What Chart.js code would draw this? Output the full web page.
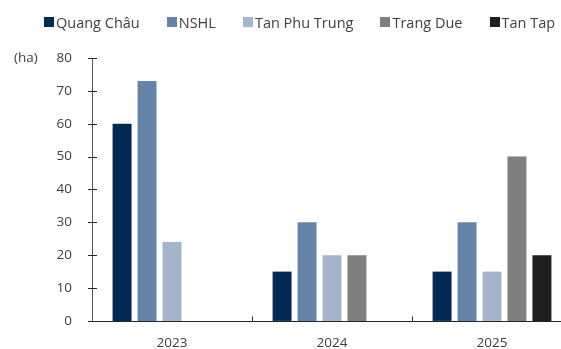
<!DOCTYPE html>
<html>
<head>
<meta charset="utf-8">
<script src="https://cdn.jsdelivr.net/npm/chart.js@4.4.0/dist/chart.umd.min.js"></script>
<style>
  html, body { margin: 0; padding: 0; overflow: hidden; background: #fff; }
  #wrap { position: relative; width: 580px; height: 349px; }
  #legend { position: absolute; left: 44px; top: 13px; display: flex; font-family: "Open Sans", sans-serif; font-size: 14.5px; color: #404040; white-space: nowrap; }
  #legend .item { display: flex; align-items: center; margin-right: 27px; height: 18px; }
  #legend .box { width: 10px; height: 10px; margin-right: 2px; }
</style>
</head>
<body>
<div id="wrap">
  <div id="legend"></div>
  <canvas id="chart-bars" width="580" height="349"></canvas>
</div>
<script>
/* Datos */
var anios = ["2023", "2024", "2025"];
var quangChau = [60, 15, 15];
var nshl = [73, 30, 30];
var tanPhuTrung = [24, 20, 15];
var trangDue = [null, 20, 50];
var tanTap = [null, null, 20];
var ticksY = [0, 10, 20, 30, 40, 50, 60, 70, 80];

var colores = ["#012a52", "#6583a8", "#a4b4cc", "#7f7f7f", "#1f1f1f"];
var colorTexto = "#404040";
var colorEje = "#262626";

/* Ejes y marcas dibujados a mano */
var ejesPlugin = {
  id: "ejes",
  afterDraw: function(chart){
    var c = chart.ctx;
    var x = chart.scales.x;
    var y = chart.scales.y;
    var area = chart.chartArea;
    c.save();
    c.lineWidth = 1;
    // eje y
    c.strokeStyle = "#555";
    c.beginPath();
    c.moveTo(area.left + 0.5, y.getPixelForValue(80));
    c.lineTo(area.left + 0.5, y.getPixelForValue(0));
    c.stroke();
    c.strokeStyle = colorEje;
    c.beginPath();
    // marcas y
    ticksY.forEach(function(v){
      var py = Math.round(y.getPixelForValue(v)) + 0.5;
      c.moveTo(area.left - 4, py);
      c.lineTo(area.left + 5, py);
    });
    // eje x
    var by = Math.round(y.getPixelForValue(0)) + 0.5;
    c.moveTo(area.left - 4, by);
    c.lineTo(chart.width, by);
    // marcas x entre categorías
    for (var i = 1; i < anios.length; i++) {
      var px = Math.round((x.getPixelForValue(i - 1) + x.getPixelForValue(i)) / 2) + 0.5;
      c.moveTo(px, by);
      c.lineTo(px, by - 5);
    }
    c.stroke();
    // unidad
    c.fillStyle = colorTexto;
    c.font = "13.5px 'Open Sans'";
    c.textBaseline = "middle";
    c.textAlign = "left";
    c.fillText("(ha)", 14, y.getPixelForValue(80));
    c.restore();
  }
};

/* Leyenda en HTML */
var leyendaPlugin = {
  id: "leyendaHtml",
  afterUpdate: function(chart){
    var cont = document.getElementById("legend");
    cont.innerHTML = "";
    chart.data.datasets.forEach(function(ds){
      var item = document.createElement("div");
      item.className = "item";
      var box = document.createElement("span");
      box.className = "box";
      box.style.background = ds.backgroundColor;
      var txt = document.createElement("span");
      txt.textContent = ds.label;
      item.appendChild(box);
      item.appendChild(txt);
      cont.appendChild(item);
    });
  }
};

var ctx = document.getElementById("chart-bars").getContext("2d");

new Chart(ctx, {
  type: "bar",
  data: {
    labels: anios,
    datasets: [
      { label: "Quang Châu", data: quangChau, backgroundColor: colores[0] },
      { label: "NSHL", data: nshl, backgroundColor: colores[1] },
      { label: "Tan Phu Trung", data: tanPhuTrung, backgroundColor: colores[2] },
      { label: "Trang Due", data: trangDue, backgroundColor: colores[3] },
      { label: "Tan Tap", data: tanTap, backgroundColor: colores[4] }
    ]
  },
  options: {
    responsive: false,
    animation: false,
    barPercentage: 0.76,
    categoryPercentage: 0.78,
    layout: {
      padding: { top: 58, right: 8, left: 0, bottom: 0 }
    },
    plugins: {
      legend: { display: false },
      tooltip: { enabled: false }
    },
    scales: {
      y: {
        min: 0,
        max: 80,
        afterFit: function(scale){ scale.width = 92; },
        border: { display: false },
        grid: { display: false, drawTicks: false },
        ticks: {
          stepSize: 10,
          padding: 20,
          color: colorTexto,
          font: { size: 13.5, family: "Open Sans" }
        }
      },
      x: {
        afterFit: function(scale){ scale.height = 27; },
        border: { display: false },
        grid: { display: false, drawTicks: false },
        ticks: {
          padding: 14,
          color: colorTexto,
          font: { size: 13.5, family: "Open Sans" }
        }
      }
    }
  },
  plugins: [ejesPlugin, leyendaPlugin]
});
</script>
</body>
</html>
